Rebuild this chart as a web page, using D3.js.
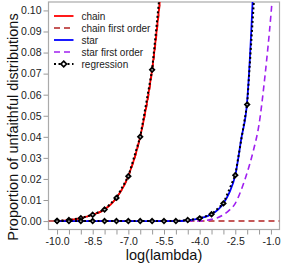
<!DOCTYPE html>
<html lang="en">
<head>
  <meta charset="UTF-8">
  <title>Unfaithful distributions</title>
  <script src="https://d3js.org/d3.v7.min.js"></script>
  <style>
    body { margin: 0; background: #fff; }
    text { font-family: "Liberation Sans", Arial, sans-serif; }
  </style>
</head>
<body>
  <svg id="chart" width="282" height="266"></svg>

  <script>
    // values
    const chainX      = [-10, -9.5, -9, -8.5, -8, -7.5, -7, -6.5, -6, -5.5];
    const chainY      = [0.0001, 0.0005, 0.0014, 0.003, 0.0055, 0.011, 0.0213, 0.040, 0.072, 0.124];
    const chainFirstY = [0.0001, 0.0005, 0.0014, 0.003, 0.0055, 0.011, 0.0212, 0.040, 0.071, 0.123];

    const starX      = [-10, -9, -8, -7, -6, -5, -4.5, -4, -3.5, -3, -2.75, -2.5, -2.25, -2, -1.75, -1.5];
    const starY      = [0, 0, 0, 0, 0, 0, 0.0004, 0.0013, 0.0032, 0.0084, 0.0135, 0.0218, 0.039, 0.057, 0.110, 0.19];

    const starFirstX = [-10, -8, -6, -4, -3.75, -3.5, -3.25, -3, -2.75, -2.5, -2.25, -2, -1.75, -1.5, -1.25, -1, -0.75, -0.5];
    const starFirstY = [0, 0, 0, 0, 0.0003, 0.0008, 0.0016, 0.003, 0.0052, 0.0084, 0.0148, 0.023, 0.033, 0.046, 0.069, 0.098, 0.135, 0.18];

    const regChainX = [-10, -9.5, -9, -8.5, -8, -7.5, -7, -6.5, -6, -5.5];
    const regChainY = [0.0001, 0.0005, 0.0014, 0.003, 0.0055, 0.011, 0.0213, 0.040, 0.0718, 0.128];
    const regStarX  = [-10, -9.5, -9, -8.5, -8, -7.5, -7, -6.5, -6, -5.5, -5, -4.5, -4, -3.5, -3, -2.5, -2, -1.5];
    const regStarY  = [0, 0, 0, 0, 0, 0, 0, 0, 0, 0, 0, 0.0005, 0.0013, 0.0032, 0.0084, 0.0218, 0.0553, 0.142];

    const xTicks      = d3.range(-10, -0.99, 0.5);
    const xTickLabels = [-10, -8.5, -7, -5.5, -4, -2.5, -1];
    const yTicks      = d3.range(0, 0.1001, 0.01);

    const legendItems = [
      { label: "chain",             color: "#ff0000", dash: null,    width: 1.8 },
      { label: "chain first order", color: "#b22222", dash: "6,4",   width: 1.6 },
      { label: "star",              color: "#0000ff", dash: null,    width: 1.8 },
      { label: "star first order",  color: "#a020f0", dash: "6,4",   width: 1.6 },
      { label: "regression",        color: "#000000", dash: "2,2.5", width: 2, marker: true }
    ];

    const svg = d3.select("#chart");
    const pLeft = 48.5, pRight = 279.5, pTop = 2, pBottom = 229.5;

    const x = d3.scaleLinear().domain([-10.36, -0.64]).range([pLeft, pRight]);
    const y = d3.scaleLinear().domain([-0.004, 0.104]).range([pBottom, pTop]);

    svg.append("defs").append("clipPath").attr("id", "plotClip")
      .append("rect")
        .attr("x", pLeft).attr("y", pTop)
        .attr("width", pRight - pLeft).attr("height", pBottom - pTop);

    // axes, R style: ticks outside the box
    const xAxis = svg.append("g")
      .attr("transform", `translate(0,${pBottom})`)
      .call(d3.axisBottom(x).tickValues(xTicks).tickSize(5).tickPadding(3)
        .tickFormat(d => xTickLabels.some(v => Math.abs(v - d) < 1e-9) ? d.toFixed(1) : ""));
    const yAxis = svg.append("g")
      .attr("transform", `translate(${pLeft},0)`)
      .call(d3.axisLeft(y).tickValues(yTicks).tickSize(5).tickPadding(2)
        .tickFormat(d3.format(".2f")));

    [xAxis, yAxis].forEach(g => {
      g.select(".domain").remove();
      g.selectAll(".tick line").attr("stroke", "#999");
      g.selectAll(".tick text")
        .attr("fill", "#222")
        .style("font-size", "10.5px");
    });

    // plot box
    svg.append("rect")
      .attr("x", pLeft).attr("y", pTop)
      .attr("width", pRight - pLeft).attr("height", pBottom - pTop)
      .attr("fill", "none")
      .attr("stroke", "#aaa")
      .attr("stroke-width", 1.2);

    const plot = svg.append("g").attr("clip-path", "url(#plotClip)");

    const smooth = d3.line().x(d => x(d[0])).y(d => y(d[1])).curve(d3.curveMonotoneX);
    const straight = d3.line().x(d => x(d[0])).y(d => y(d[1]));

    const zip = (xs, ys) => xs.map((v, i) => [v, ys[i]]);

    function drawLine(pts, item, gen) {
      plot.append("path")
        .datum(pts)
        .attr("d", gen)
        .attr("fill", "none")
        .attr("stroke", item.color)
        .attr("stroke-width", item.width)
        .attr("stroke-dasharray", item.dash);
    }

    // zero reference line
    plot.append("line")
      .attr("x1", x(-10.36)).attr("x2", x(-0.64))
      .attr("y1", y(0)).attr("y2", y(0))
      .attr("stroke", "#b22222")
      .attr("stroke-width", 1.6)
      .attr("stroke-dasharray", "6,4");

    drawLine(zip(starFirstX, starFirstY), legendItems[3], smooth);
    drawLine(zip(chainX, chainFirstY), legendItems[1], smooth);
    drawLine(zip(chainX, chainY), legendItems[0], smooth);
    drawLine(zip(starX, starY), legendItems[2], smooth);

    const regChain = zip(regChainX, regChainY);
    const regStar = zip(regStarX, regStarY);
    drawLine(regChain, legendItems[4], straight);
    drawLine(regStar, legendItems[4], straight);

    const diamond = d3.symbol().type(d3.symbolDiamond2).size(13);
    plot.append("g")
      .selectAll("path")
      .data(regChain.concat(regStar))
      .join("path")
        .attr("d", diamond)
        .attr("transform", d => `translate(${x(d[0])},${y(d[1])})`)
        .attr("fill", "#bbb")
        .attr("stroke", "#000")
        .attr("stroke-width", 1.7);

    // legend
    const legend = svg.append("g");
    legendItems.forEach((item, i) => {
      const ly = 16 + i * 12;
      legend.append("line")
        .attr("x1", 54).attr("x2", 73.5)
        .attr("y1", ly).attr("y2", ly)
        .attr("stroke", item.color)
        .attr("stroke-width", item.width)
        .attr("stroke-dasharray", item.dash);
      if (item.marker) {
        legend.append("path")
          .attr("d", d3.symbol().type(d3.symbolDiamond2).size(20))
          .attr("transform", `translate(63.7,${ly})`)
          .attr("fill", "#fff")
          .attr("stroke", "#000")
          .attr("stroke-width", 1.7);
      }
      legend.append("text")
        .attr("x", 81.5).attr("y", ly)
        .attr("dy", "0.35em")
        .attr("fill", "#222")
        .style("font-size", "10px")
        .text(item.label);
    });

    // axis titles
    svg.append("text")
      .attr("x", (pLeft + pRight) / 2).attr("y", 260)
      .attr("text-anchor", "middle")
      .attr("fill", "#111")
      .style("font-size", "14.5px")
      .text("log(lambda)");

    svg.append("text")
      .attr("transform", `translate(17.5,127) rotate(-90)`)
      .attr("text-anchor", "middle")
      .attr("fill", "#111")
      .style("font-size", "14.5px")
      .text("Proportion of unfaithful distributions");
  </script>
</body>
</html>
